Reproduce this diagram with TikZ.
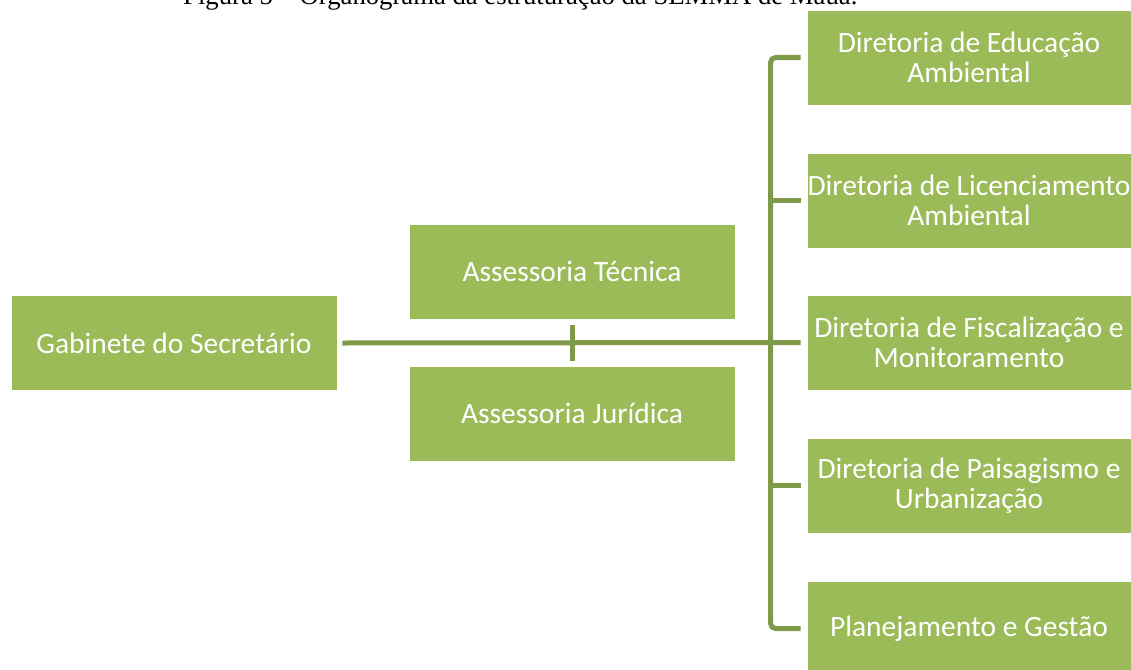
\documentclass[tikz,border=0pt]{standalone}
\usepackage{fontspec}
\setmainfont{Carlito}
\newfontfamily\capfont{Liberation Serif}
\definecolor{boxgreen}{HTML}{9BBB59}
\definecolor{linegreen}{HTML}{7F9A48}
\begin{document}
\begin{tikzpicture}[x=1pt,y=-1pt,
  box/.style={fill=boxgreen, draw=white, line width=0.8pt, minimum width=326pt, minimum height=95pt, text=white, font=\fontsize{29.5}{30.5}\selectfont, align=center, inner sep=0pt},
  rbox/.style={box, minimum width=324pt},
  conn/.style={draw=linegreen, line width=5pt}]
\useasboundingbox (0,0) rectangle (1131,669);
\clip (0,0) rectangle (1131,669);
\node[anchor=base west, inner sep=0pt, font=\capfont\fontsize{26.7}{30}\selectfont] (cap) at (183,5) {Figura 5 – Organograma da estruturação da SEMMA de Mauá.};
\node[box] (gab) at (174,343) {Gabinete do Secretário};
\node[box] (at) at (572,271.5) {Assessoria Técnica};
\node[box] (aj) at (572,413.5) {Assessoria Jurídica};
\node[rbox] (d1) at (969,57.5) {Diretoria de Educação\\Ambiental};
\node[rbox] (d2) at (969,200.5) {Diretoria de Licenciamento\\Ambiental};
\node[rbox] (d3) at (969,342.5) {Diretoria de Fiscalização e\\Monitoramento};
\node[rbox] (d4) at (969,485.5) {Diretoria de Paisagismo e\\Urbanização};
\node[rbox] (d5) at (969,628.5) {Planejamento e Gestão};
\draw[conn] ([xshift=5pt]gab.east) -- ([xshift=-6pt]d3.west);
\draw[conn] ([yshift=-6pt]at.south) -- ([yshift=5pt]aj.north);
\draw[conn, rounded corners=5pt] ([xshift=-6pt]d1.west) -| ([xshift=-36pt]d5.west) -- ([xshift=-6pt]d5.west);
\draw[conn] ([xshift=-6pt]d2.west) -- ([xshift=-36pt]d2.west);
\draw[conn] ([xshift=-6pt]d4.west) -- ([xshift=-36pt]d4.west);
\end{tikzpicture}
\end{document}
